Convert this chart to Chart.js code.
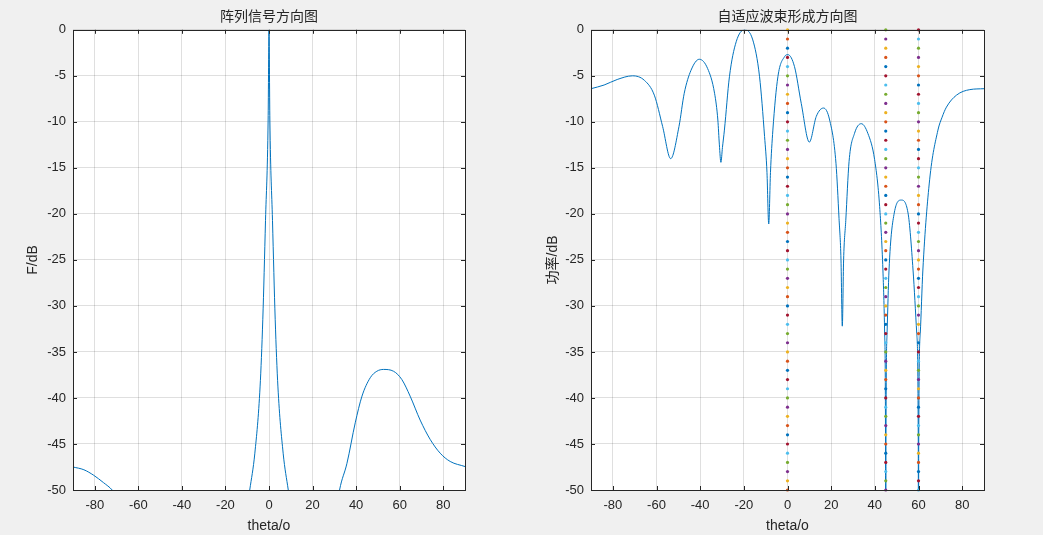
<!DOCTYPE html>
<html lang="zh">
<head>
<meta charset="UTF-8">
<title>方向图</title>
<script src="https://cdn.jsdelivr.net/npm/chart.js"></script>
<style>
  body { margin: 0; background: #f0f0f0; }
  #fig { position: relative; width: 1043px; height: 535px; overflow: hidden; }
  #left { position: absolute; left: 0; top: 0; }
  #right { position: absolute; left: 519px; top: 0; }
</style>
</head>
<body>
<div id="fig">
  <canvas id="left" width="520" height="535"></canvas>
  <canvas id="right" width="524" height="535"></canvas>
</div>
<script>
// axis ticks (both subplots)
var xTicks = [-80, -60, -40, -20, 0, 20, 40, 60, 80];
var yTicks = [-50, -45, -40, -35, -30, -25, -20, -15, -10, -5, 0];

// left: 阵列信号方向图 (values below -50 are clipped by the axis)
var leftTheta = [-90, -85, -80.5, -76, -72, -68, -60, -40, -20, -12, -8.85, -6.5, -4.1, -2.85, -1.6, -0.4, 0,
                 0.4, 1.6, 2.85, 4.1, 6.5, 8.85, 12, 20, 28, 32.4, 35.8, 39.6, 42.7, 46.5, 49.5, 52.6,
                 57.2, 61, 64.8, 69.4, 74, 78.6, 83.2, 90];
var leftF = [-47.5, -47.8, -48.4, -49.2, -50, -51.3, -56, -68, -64, -55, -50, -46, -38.8, -31.5, -20.7, -9.8, 0,
             -9.8, -20.7, -31.5, -38.8, -46, -50, -55, -64, -57, -50, -47.1, -42.7, -39.8, -37.8, -37.1, -36.9,
             -37.1, -38.0, -39.8, -42.4, -44.5, -46.0, -46.9, -47.45];

// right: 自适应波束形成方向图
var rightTheta = [-90, -84, -78, -71, -65.5, -61, -57.2, -53.5, -49.7, -47.3, -44.2, -40.4, -36.6, -33.4, -31.9,
                  -31.2, -30.5, -29.8, -28.9, -26.6, -23.5, -19.7, -15.9, -12.8, -10.5, -9.4, -8.6, -7.8, -6.7,
                  -4.4, -1.3, 0.2, 3.2, 6.3, 10.0, 13.2, 16.5, 19.3, 22.2, 23.6, 24.5, 25.1, 25.7, 26.7, 28.2,
                  30.7, 33.8, 36.8, 39.9, 42.2, 43.7, 44.5, 44.9, 45, 45.1, 45.6, 46.5, 48.9, 52.1, 55.2, 57.5,
                  59.2, 59.9, 60, 60.1, 60.8, 62.0, 65.1, 68.9, 70.8, 72.8, 77.4, 83.5, 90];
var rightP = [-6.4, -6.0, -5.4, -5.0, -5.5, -7.1, -10.5, -14.0, -10.5, -6.9, -4.4, -3.2, -4.2, -6.9, -9.8,
              -12.5, -14.4, -12.8, -10.9, -5.1, -1.3, 0, -1.1, -5.1, -11.6, -15.5, -21.1, -15.5, -10.9,
              -5.1, -2.9, -2.7, -4.0, -8.0, -12.2, -9.4, -8.5, -9.8, -14.5, -20.5, -25, -32.2, -25, -20.7, -14.3,
              -11.25, -10.2, -11.25, -14.1, -19.2, -26.1, -33, -45, -70, -45, -33, -26.1, -19.9, -18.5, -19.9, -26.1,
              -33, -45, -70, -45, -33, -26.1, -16.3, -10.9, -9.5, -8.4, -7.1, -6.5, -6.4];

// marker columns at the signal / interference directions
var markX = [0, 45, 60];
var markY = [-50, -49, -48, -47, -46, -45, -44, -43, -42, -41, -40, -39, -38, -37, -36, -35, -34,
             -33, -32, -31, -30, -29, -28, -27, -26, -25, -24, -23, -22, -21, -20, -19, -18, -17,
             -16, -15, -14, -13, -12, -11, -10, -9, -8, -7, -6, -5, -4, -3, -2, -1, 0];

var matlabColors = ['#0072BD', '#D95319', '#EDB120', '#7E2F8E', '#77AC30', '#4DBEEE', '#A2142F'];
var latin = '"Liberation Sans", Arial, "Noto Sans CJK SC", sans-serif';
var cjk = '"Noto Sans CJK SC", "Liberation Sans", sans-serif';
var axisColor = '#262626';

function pairs(xs, ys) {
  var out = [];
  for (var i = 0; i < xs.length; i++) out.push({ x: xs[i], y: ys[i] });
  return out;
}

// white axes area, black box and inward ticks like matlab
var boxPlugin = {
  id: 'matlabBox',
  beforeDraw: function (chart) {
    var a = chart.chartArea, c = chart.ctx;
    c.save();
    c.fillStyle = '#ffffff';
    c.fillRect(a.left, a.top, a.right - a.left, a.bottom - a.top);
    c.restore();
  },
  afterDraw: function (chart) {
    var a = chart.chartArea, c = chart.ctx;
    var xs = chart.scales.x, ys = chart.scales.y;
    c.save();
    c.strokeStyle = axisColor;
    c.lineWidth = 1;
    c.beginPath();
    xTicks.forEach(function (v) {
      var px = Math.round(xs.getPixelForValue(v)) + 0.5;
      c.moveTo(px, a.bottom); c.lineTo(px, a.bottom - 4);
      c.moveTo(px, a.top); c.lineTo(px, a.top + 4);
    });
    yTicks.forEach(function (v) {
      var py = Math.round(ys.getPixelForValue(v)) + 0.5;
      c.moveTo(a.left, py); c.lineTo(a.left + 4, py);
      c.moveTo(a.right, py); c.lineTo(a.right - 4, py);
    });
    c.stroke();
    c.strokeRect(Math.round(a.left) + 0.5, Math.round(a.top) + 0.5,
                 Math.round(a.right - a.left), Math.round(a.bottom - a.top));
    c.restore();
  }
};

function makeChart(id, datasets, title, yTitle, yWidth, yTitlePad, rightPad) {
  return new Chart(document.getElementById(id), {
    type: 'line',
    data: { datasets: datasets },
    plugins: [boxPlugin],
    options: {
      responsive: false,
      animation: false,
      events: [],
      layout: { padding: { left: 0, right: rightPad, top: 0, bottom: 0 } },
      plugins: {
        legend: { display: false },
        tooltip: { enabled: false },
        title: {
          display: true,
          text: title,
          fullSize: false,
          color: axisColor,
          font: { family: cjk, size: 14, weight: 'normal' },
          padding: { top: 7, bottom: 6 }
        }
      },
      scales: {
        x: {
          type: 'linear',
          min: -90,
          max: 90,
          afterBuildTicks: function (s) { s.ticks = xTicks.map(function (v) { return { value: v }; }); },
          afterFit: function (s) { s.height = 45; },
          ticks: { color: axisColor, font: { family: latin, size: 13 }, padding: 8, maxRotation: 0, autoSkip: false,
                   callback: function (v) { return String(v); } },
          grid: { color: 'rgba(38,38,38,0.15)', drawTicks: false },
          border: { display: false },
          title: { display: true, text: 'theta/o', color: axisColor, font: { family: latin, size: 14 },
                   padding: { top: 0, bottom: 0 } }
        },
        y: {
          type: 'linear',
          min: -50,
          max: 0,
          afterBuildTicks: function (s) { s.ticks = yTicks.map(function (v) { return { value: v }; }); },
          afterFit: function (s) { s.width = yWidth; },
          ticks: { color: axisColor, font: { family: latin, size: 13 }, padding: 7, autoSkip: false,
                   callback: function (v) { return String(v); } },
          grid: { color: 'rgba(38,38,38,0.15)', drawTicks: false },
          border: { display: false },
          title: { display: true, text: yTitle, color: axisColor, font: { family: latin, size: 14 },
                   padding: { top: yTitlePad, bottom: 0 } }
        }
      }
    }
  });
}

var curveStyle = {
  borderColor: '#0072BD',
  borderWidth: 1,
  pointRadius: 0,
  fill: false,
  cubicInterpolationMode: 'monotone'
};

var leftSets = [Object.assign({ data: pairs(leftTheta, leftF) }, curveStyle)];

var rightSets = [];
var k = 1;
markX.forEach(function (x) {
  var pts = [], cols = [];
  markY.forEach(function (y) {
    pts.push({ x: x, y: y });
    cols.push(matlabColors[k % 7]);
    k++;
  });
  rightSets.push({
    data: pts,
    showLine: false,
    pointRadius: 1.6,
    pointBorderWidth: 0,
    pointBackgroundColor: cols,
    clip: false,
    order: 0
  });
});
rightSets.push(Object.assign({ data: pairs(rightTheta, rightP), order: 1 }, curveStyle));

makeChart('left', leftSets, '阵列信号方向图', 'F/dB', 73, 25, 55);
makeChart('right', rightSets, '自适应波束形成方向图', '功率/dB', 72, 26, 59);
</script>
</body>
</html>
